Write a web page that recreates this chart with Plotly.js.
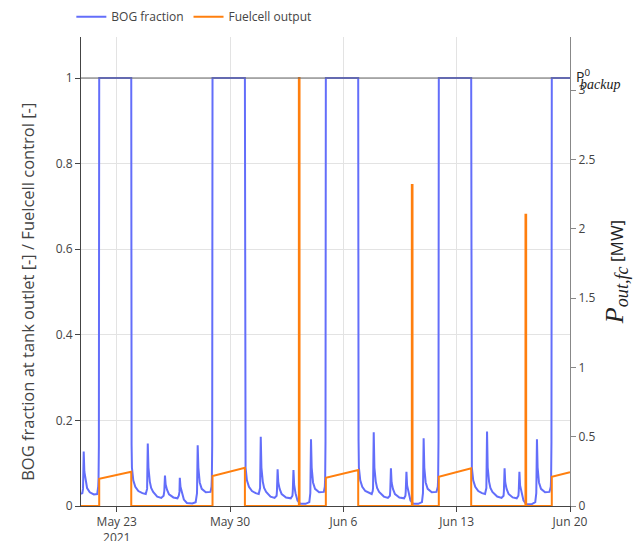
<!DOCTYPE html>
<html>
<head>
<meta charset="utf-8">
<script src="https://cdn.plot.ly/plotly-3.0.1.min.js"></script>
<style>html,body{margin:0;padding:0;background:#fff;}#chart{width:637px;height:541px;}</style>
</head>
<body>
<div id="chart"></div>
<script>
// BOG fraction at tank outlet [-]
const bogTime = [
'2021-05-20 19:00','2021-05-20 21:00','2021-05-20 22:00','2021-05-20 23:00','2021-05-21 00:00','2021-05-21 02:00','2021-05-21 04:00','2021-05-21 08:00','2021-05-21 14:00','2021-05-21 19:00','2021-05-21 20:30','2021-05-21 21:00','2021-05-21 21:30','2021-05-21 22:00','2021-05-23 21:30',
'2021-05-23 22:00','2021-05-23 22:30','2021-05-24 00:30','2021-05-24 03:30','2021-05-24 08:00','2021-05-24 14:00','2021-05-24 19:00','2021-05-24 20:30','2021-05-24 21:00','2021-05-24 22:00',
'2021-05-24 23:00','2021-05-25 01:00','2021-05-25 03:00','2021-05-25 06:00','2021-05-25 12:00','2021-05-25 18:00','2021-05-25 21:30','2021-05-25 22:30','2021-05-25 23:30','2021-05-26 00:30',
'2021-05-26 02:30','2021-05-26 05:30','2021-05-26 12:00','2021-05-26 18:00','2021-05-26 20:00','2021-05-26 21:00','2021-05-26 21:30','2021-05-26 22:30','2021-05-27 00:30','2021-05-27 03:30',
'2021-05-27 08:00','2021-05-27 16:00','2021-05-27 21:00','2021-05-27 23:00','2021-05-28 00:00','2021-05-28 01:00','2021-05-28 03:00','2021-05-28 06:00','2021-05-28 12:00','2021-05-28 19:00',
'2021-05-28 20:30','2021-05-28 21:00','2021-05-28 21:30','2021-05-28 22:00','2021-05-30 22:00',
'2021-05-30 22:30','2021-05-30 23:00','2021-05-31 01:00','2021-05-31 04:00','2021-05-31 08:30','2021-05-31 14:00','2021-05-31 18:30','2021-05-31 20:00','2021-05-31 20:30','2021-05-31 21:30',
'2021-05-31 22:30','2021-06-01 00:30','2021-06-01 02:30','2021-06-01 05:30','2021-06-01 12:00','2021-06-01 18:00','2021-06-01 21:00','2021-06-01 21:30','2021-06-01 22:30','2021-06-01 23:30',
'2021-06-02 01:30','2021-06-02 04:30','2021-06-02 11:00','2021-06-02 18:00','2021-06-02 20:30','2021-06-02 21:00','2021-06-02 22:00','2021-06-02 23:00','2021-06-03 01:00','2021-06-03 04:00',
'2021-06-03 08:00','2021-06-03 16:00','2021-06-03 21:30','2021-06-03 23:00','2021-06-04 00:00','2021-06-04 01:00','2021-06-04 03:00','2021-06-04 06:00','2021-06-04 12:00','2021-06-04 19:00',
'2021-06-04 20:30','2021-06-04 21:00','2021-06-04 21:30','2021-06-04 22:00','2021-06-06 22:00',
'2021-06-06 22:30','2021-06-06 23:00','2021-06-07 01:00','2021-06-07 04:00','2021-06-07 08:30','2021-06-07 14:00','2021-06-07 18:00','2021-06-07 19:30','2021-06-07 20:00','2021-06-07 21:00',
'2021-06-07 22:00','2021-06-08 00:00','2021-06-08 02:00','2021-06-08 05:00','2021-06-08 12:00','2021-06-08 18:00','2021-06-08 21:00','2021-06-08 21:30','2021-06-08 22:30','2021-06-08 23:30',
'2021-06-09 01:30','2021-06-09 04:30','2021-06-09 11:00','2021-06-09 18:00','2021-06-09 20:00','2021-06-09 20:30','2021-06-09 21:30','2021-06-09 22:30','2021-06-10 00:30','2021-06-10 03:30',
'2021-06-10 07:30','2021-06-10 15:00','2021-06-10 20:30','2021-06-10 22:00','2021-06-10 23:00','2021-06-11 00:00','2021-06-11 02:00','2021-06-11 05:00','2021-06-11 11:00','2021-06-11 18:00',
'2021-06-11 20:00','2021-06-11 20:30','2021-06-11 21:00','2021-06-11 21:30','2021-06-13 21:30',
'2021-06-13 22:00','2021-06-13 22:30','2021-06-14 00:30','2021-06-14 03:30','2021-06-14 08:00','2021-06-14 13:30','2021-06-14 18:00','2021-06-14 19:30','2021-06-14 20:00','2021-06-14 21:00',
'2021-06-14 22:00','2021-06-15 00:00','2021-06-15 02:00','2021-06-15 05:00','2021-06-15 12:00','2021-06-15 18:30','2021-06-15 21:30','2021-06-15 22:00','2021-06-15 23:00','2021-06-16 00:00',
'2021-06-16 02:00','2021-06-16 05:00','2021-06-16 11:00','2021-06-16 17:00','2021-06-16 19:30','2021-06-16 20:00','2021-06-16 21:00','2021-06-16 22:00','2021-06-17 00:00','2021-06-17 03:00',
'2021-06-17 07:00','2021-06-17 15:00','2021-06-17 20:30','2021-06-17 22:00','2021-06-17 23:00','2021-06-18 00:00','2021-06-18 02:00','2021-06-18 05:00','2021-06-18 11:00','2021-06-18 17:30',
'2021-06-18 19:30','2021-06-18 20:00','2021-06-18 20:30','2021-06-18 21:00','2021-06-20 00:00'
];
const bogValue = [
0.028,0.03,0.04,0.127,0.08,0.06,0.042,0.032,0.027,0.028,0.045,0.065,0.14,1,1,
0.142,0.09,0.06,0.045,0.035,0.03,0.028,0.035,0.04,0.146,
0.09,0.057,0.042,0.033,0.022,0.019,0.024,0.035,0.071,0.05,
0.038,0.027,0.02,0.018,0.024,0.033,0.066,0.045,0.03,0.015,
0.007,0.006,0.009,0.03,0.142,0.09,0.055,0.04,0.032,0.033,
0.045,0.065,0.14,1,1,
0.154,0.09,0.06,0.045,0.035,0.03,0.028,0.035,0.042,0.162,
0.09,0.057,0.042,0.033,0.022,0.019,0.024,0.035,0.086,0.055,
0.04,0.028,0.02,0.018,0.024,0.035,0.084,0.05,0.03,0.013,
0.005,0.005,0.009,0.03,0.156,0.09,0.055,0.04,0.032,0.033,
0.045,0.065,0.15,1,1,
0.155,0.09,0.06,0.045,0.035,0.03,0.028,0.035,0.042,0.172,
0.09,0.057,0.042,0.033,0.022,0.019,0.024,0.035,0.088,0.055,
0.04,0.028,0.02,0.018,0.024,0.035,0.08,0.048,0.03,0.013,
0.005,0.005,0.009,0.03,0.158,0.09,0.055,0.04,0.032,0.033,
0.045,0.065,0.15,1,1,
0.155,0.09,0.06,0.045,0.035,0.03,0.028,0.035,0.042,0.174,
0.09,0.057,0.042,0.033,0.022,0.019,0.024,0.035,0.088,0.055,
0.04,0.028,0.02,0.018,0.024,0.035,0.08,0.048,0.03,0.013,
0.004,0.004,0.009,0.03,0.156,0.09,0.055,0.04,0.032,0.033,
0.045,0.065,0.15,1,1
];

// Fuelcell output [MW]
const fcTime = [
'2021-05-20 19:00','2021-05-21 22:00','2021-05-21 22:00','2021-05-23 21:30','2021-05-23 21:30',
'2021-05-28 22:00','2021-05-28 22:00','2021-05-30 22:00','2021-05-30 22:00',
'2021-06-03 06:00','2021-06-03 06:00','2021-06-03 07:00','2021-06-03 07:00',
'2021-06-04 22:00','2021-06-04 22:00','2021-06-06 22:00','2021-06-06 22:00',
'2021-06-10 05:30','2021-06-10 05:30','2021-06-10 06:30','2021-06-10 06:30',
'2021-06-11 21:30','2021-06-11 21:30','2021-06-13 21:30','2021-06-13 21:30',
'2021-06-17 06:00','2021-06-17 06:00','2021-06-17 07:00','2021-06-17 07:00',
'2021-06-18 21:00','2021-06-18 21:00','2021-06-20 00:00'
];
const fcValue = [
0,0,0.197,0.247,0,
0,0.216,0.276,0,
0,3.087,3.087,0,
0,0.204,0.26,0,
0,2.316,2.316,0,
0,0.211,0.272,0,
0,2.10,2.10,0,
0,0.211,0.243
];

const xTick0 = '2021-05-23';
const xRange = ['2021-05-20 19:00','2021-06-20 00:00'];
const pBackup = 3.087;   // MW, drawn at BOG fraction = 1
const yLeftMax = 1.0958;

const traces = [
  {x: bogTime, y: bogValue, type: 'scatter', mode: 'lines', name: 'BOG fraction',
   line: {color: '#636efa', width: 2}},
  {x: fcTime, y: fcValue, type: 'scatter', mode: 'lines', name: 'Fuelcell output', yaxis: 'y2',
   line: {color: '#ff7f0e', width: 2}}
];

const layout = {
  width: 637, height: 541,
  margin: {l: 81, r: 67, t: 37, b: 35, autoexpand: false},
  paper_bgcolor: '#fff', plot_bgcolor: '#fff',
  font: {family: 'Open Sans, Noto Sans, sans-serif', size: 12, color: '#444'},
  showlegend: true,
  legend: {orientation: 'h', xref: 'container', x: 0.112, xanchor: 'left',
           yref: 'container', y: 0.969, yanchor: 'middle', font: {size: 12, color: '#444'}},
  xaxis: {type: 'date', range: xRange, tick0: xTick0, dtick: 7*86400000,
    showgrid: true, gridcolor: '#e3e3e3', ticks: 'outside', ticklen: 5, tickcolor: '#444',
    showline: true, linecolor: '#444', linewidth: 1, zeroline: false},
  yaxis: {range: [0, yLeftMax], dtick: 0.2, showgrid: true, gridcolor: '#e3e3e3',
    ticks: 'outside', ticklen: 5, tickcolor: '#444', showline: true, linecolor: '#444', zeroline: false},
  yaxis2: {overlaying: 'y', side: 'right', range: [0, yLeftMax*pBackup], dtick: 0.5, showgrid: false,
    ticks: 'outside', ticklen: 5, tickcolor: '#888', showline: true, linecolor: '#888', zeroline: false,
    title: {text: '<span style="font-family:Liberation Serif, serif;font-size:26px"><i>P</i><sub><i>out,fc</i></sub></span> [MW]',
            font: {family: 'Open Sans, Noto Sans, sans-serif', size: 17, color: '#222'}, standoff: 16}},
  shapes: [
    {type: 'line', xref: 'paper', x0: 0, x1: 1, yref: 'y', y0: 1, y1: 1, line: {color: '#666', width: 1}}
  ],
  annotations: [
    {xref: 'paper', x: -0.111, xanchor: 'center', yref: 'paper', y: 0.456, yanchor: 'middle', textangle: -90,
     text: 'BOG fraction at tank outlet [-] / Fuelcell control [-]', showarrow: false,
     font: {size: 16.5, color: '#444'}},
    {xref: 'paper', x: 1, yref: 'y', y: 1, xanchor: 'left', yanchor: 'middle', xshift: 4, yshift: 2,
     text: 'P<sup>0</sup>', showarrow: false, font: {size: 14, color: '#222'}},
    {xref: 'paper', x: 1, yref: 'y', y: 1, xanchor: 'left', yanchor: 'middle', xshift: 8, yshift: -6,
     text: '<i>backup</i>', showarrow: false, font: {family: 'Liberation Serif, serif', size: 14, color: '#222'}}
  ]
};

Plotly.newPlot('chart', traces, layout, {displayModeBar: false, staticPlot: true});
</script>
</body>
</html>
